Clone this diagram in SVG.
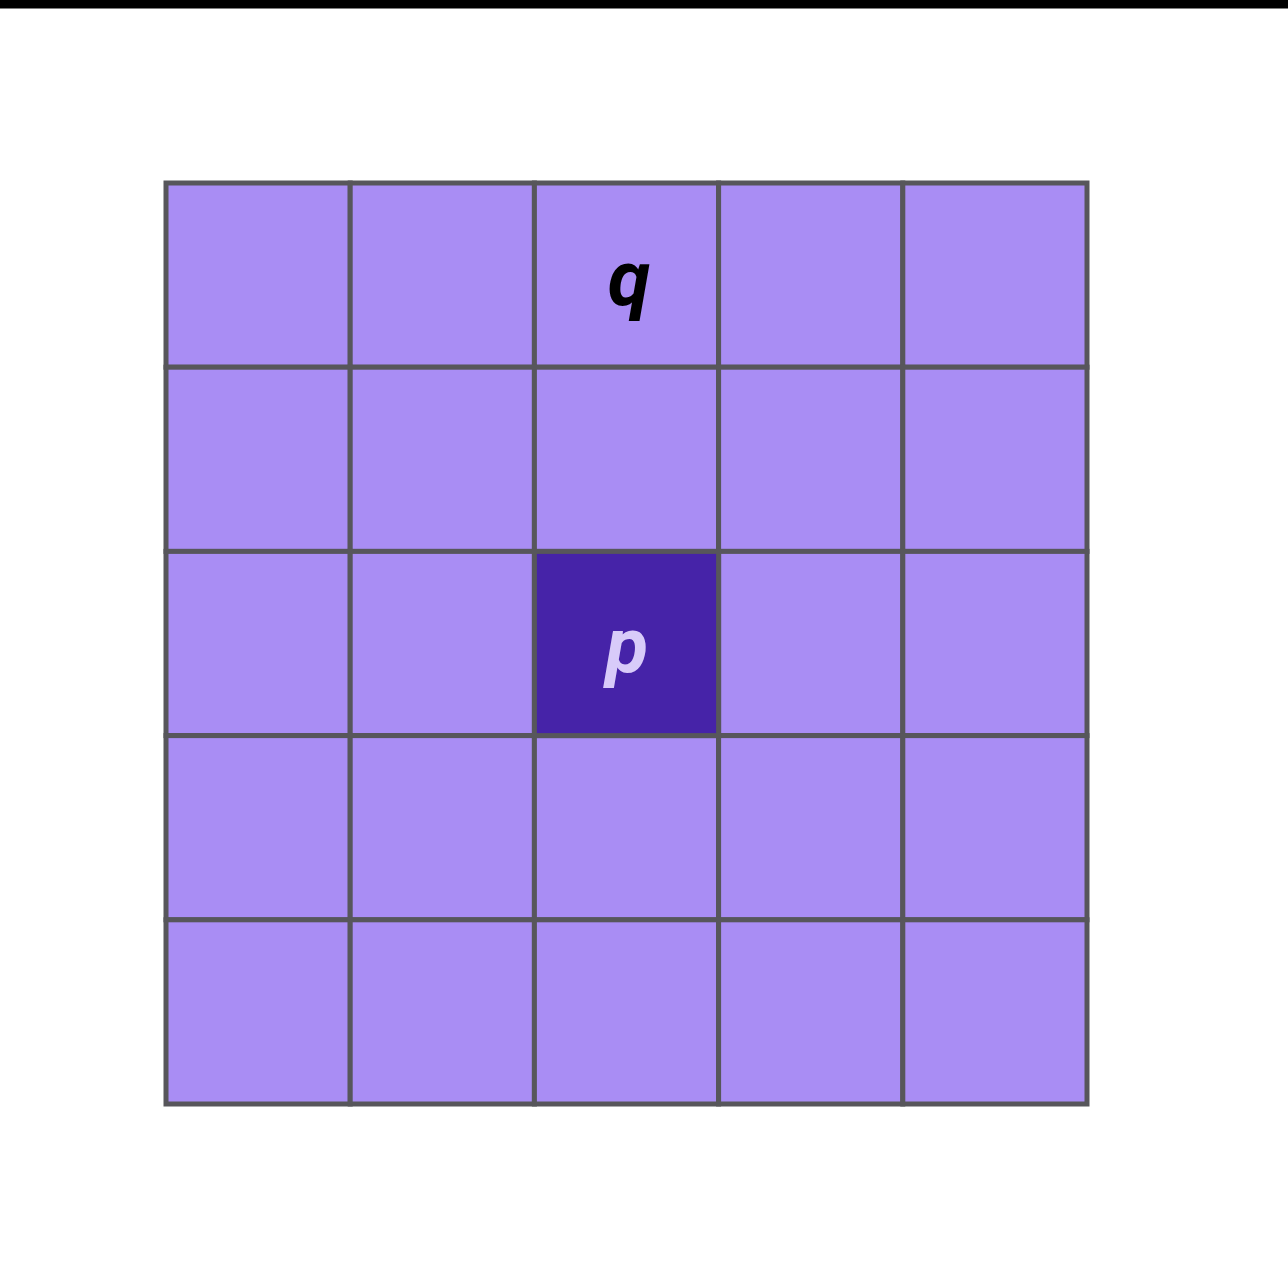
<svg xmlns="http://www.w3.org/2000/svg" width="1288" height="1288" viewBox="0 0 1288 1288">
<style>
.cell{fill:#a98df4;stroke:#57565b;stroke-width:5}
.dark{fill:#4623a8;stroke:#57565b;stroke-width:5}
.lbl{font-family:Roboto,"Liberation Sans",Arial,sans-serif;font-weight:bold;font-style:italic;font-size:78px;text-anchor:middle}
</style>
<rect x="0" y="0" width="1288" height="1288" fill="#ffffff"/>
<rect x="0" y="0" width="1288" height="8.5" fill="#000000"/>
<g id="grid">
<g id="r0">
<rect class="cell" x="166" y="183" width="184.2" height="184.2"/>
<rect class="cell" x="350.2" y="183" width="184.2" height="184.2"/>
<rect class="cell" x="534.4" y="183" width="184.2" height="184.2"/>
<rect class="cell" x="718.6" y="183" width="184.2" height="184.2"/>
<rect class="cell" x="902.8" y="183" width="184.2" height="184.2"/>
</g>
<g id="r1">
<rect class="cell" x="166" y="367.2" width="184.2" height="184.2"/>
<rect class="cell" x="350.2" y="367.2" width="184.2" height="184.2"/>
<rect class="cell" x="534.4" y="367.2" width="184.2" height="184.2"/>
<rect class="cell" x="718.6" y="367.2" width="184.2" height="184.2"/>
<rect class="cell" x="902.8" y="367.2" width="184.2" height="184.2"/>
</g>
<g id="r2">
<rect class="cell" x="166" y="551.4" width="184.2" height="184.2"/>
<rect class="cell" x="350.2" y="551.4" width="184.2" height="184.2"/>
<rect class="cell" x="718.6" y="551.4" width="184.2" height="184.2"/>
<rect class="cell" x="902.8" y="551.4" width="184.2" height="184.2"/>
</g>
<g id="r3">
<rect class="cell" x="166" y="735.6" width="184.2" height="184.2"/>
<rect class="cell" x="350.2" y="735.6" width="184.2" height="184.2"/>
<rect class="cell" x="534.4" y="735.6" width="184.2" height="184.2"/>
<rect class="cell" x="718.6" y="735.6" width="184.2" height="184.2"/>
<rect class="cell" x="902.8" y="735.6" width="184.2" height="184.2"/>
</g>
<g id="r4">
<rect class="cell" x="166" y="919.8" width="184.2" height="184.2"/>
<rect class="cell" x="350.2" y="919.8" width="184.2" height="184.2"/>
<rect class="cell" x="534.4" y="919.8" width="184.2" height="184.2"/>
<rect class="cell" x="718.6" y="919.8" width="184.2" height="184.2"/>
<rect class="cell" x="902.8" y="919.8" width="184.2" height="184.2"/>
</g>
</g>
<g id="node-p">
<rect class="dark" x="534.4" y="551.4" width="184.2" height="184.2"/>
<text class="lbl" x="627" y="672" fill="#d8cbf9">p</text>
</g>
<g id="node-q">
<text class="lbl" x="629" y="305" fill="#000000">q</text>
</g>
<g id="connectors"></g>
</svg>
